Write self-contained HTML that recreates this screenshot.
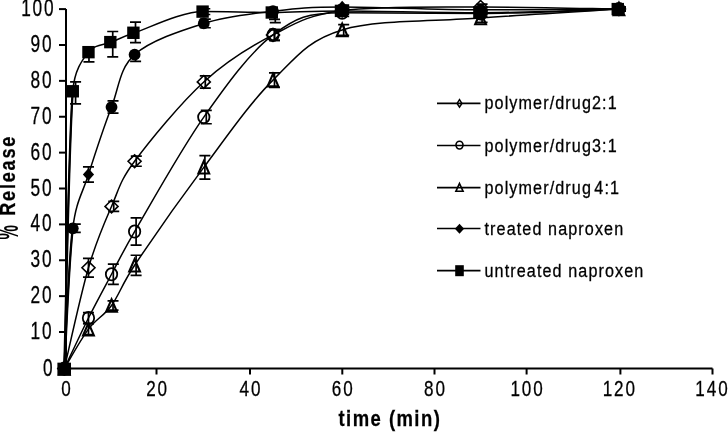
<!DOCTYPE html><html><head><meta charset="utf-8"><style>html,body{margin:0;padding:0;background:#fff;overflow:hidden;}svg{display:block}text{font-family:"Liberation Sans",Arial,sans-serif;fill:#000}</style></head><body>
<svg width="728" height="432" viewBox="0 0 728 432">
<g stroke="#000" stroke-width="2" fill="none">
<path d="M66,9.1V368.5H712.5"/>
<path d="M59,368.60H66"/>
<path d="M59,332.02H66"/>
<path d="M59,296.14H66"/>
<path d="M59,260.26H66"/>
<path d="M59,224.38H66"/>
<path d="M59,188.50H66"/>
<path d="M59,152.62H66"/>
<path d="M59,116.74H66"/>
<path d="M59,80.86H66"/>
<path d="M59,44.98H66"/>
<path d="M59,9.10H66"/>
<path d="M156.50,368.5V374.5"/>
<path d="M250.00,368.5V374.5"/>
<path d="M342.30,368.5V374.5"/>
<path d="M434.50,368.5V374.5"/>
<path d="M526.60,368.5V374.5"/>
<path d="M620.40,368.5V374.5"/>
<path d="M712.50,368.5V374.5"/>
</g>
<g font-size="24" text-anchor="end" stroke="#000" stroke-width="0.3" letter-spacing="2.5">
<text transform="translate(54.40,375.60) scale(0.72,1)">0</text>
<text transform="translate(53.40,339.02) scale(0.72,1)">10</text>
<text transform="translate(53.40,303.14) scale(0.72,1)">20</text>
<text transform="translate(53.40,267.26) scale(0.72,1)">30</text>
<text transform="translate(53.40,231.38) scale(0.72,1)">40</text>
<text transform="translate(53.40,195.50) scale(0.72,1)">50</text>
<text transform="translate(53.40,159.62) scale(0.72,1)">60</text>
<text transform="translate(53.40,123.74) scale(0.72,1)">70</text>
<text transform="translate(53.40,87.86) scale(0.72,1)">80</text>
<text transform="translate(53.40,51.98) scale(0.72,1)">90</text>
<text transform="translate(55.40,16.10) scale(0.72,1)">100</text>
</g>
<g font-size="22.5" text-anchor="middle" stroke="#000" stroke-width="0.3" letter-spacing="2.5">
<text transform="translate(66.95,395.8) scale(0.76,1)">0</text>
<text transform="translate(157.55,395.8) scale(0.76,1)">20</text>
<text transform="translate(250.95,395.8) scale(0.76,1)">40</text>
<text transform="translate(343.25,395.8) scale(0.76,1)">60</text>
<text transform="translate(435.45,395.8) scale(0.76,1)">80</text>
<text transform="translate(527.55,395.8) scale(0.76,1)">100</text>
<text transform="translate(619.75,395.8) scale(0.76,1)">120</text>
<text transform="translate(712.45,395.8) scale(0.76,1)">140</text>
</g>
<text font-weight="bold" font-size="21" text-anchor="middle" letter-spacing="1.65" stroke="#000" stroke-width="0.25" transform="translate(389.9,425.9) scale(0.88,1.03)">time (min)</text>
<text font-weight="bold" font-size="21" letter-spacing="2.1" stroke="#000" stroke-width="0.25" transform="translate(15.4,215.8) rotate(-90) scale(0.86,1.03)">Release</text>
<text font-weight="bold" font-size="26" transform="translate(17.6,239.6) rotate(-90) scale(0.62,1.18)">%</text>
<path d="M64.30,362.40L69.70,374.80L58.90,374.80Z" fill="none" stroke="#000" stroke-width="2.1" stroke-linejoin="miter"/>
<path d="M88.47,322.95L93.87,335.35L83.06,335.35Z" fill="none" stroke="#000" stroke-width="2.1" stroke-linejoin="miter"/>
<path d="M111.53,299.27L116.93,311.67L106.13,311.67Z" fill="none" stroke="#000" stroke-width="2.1" stroke-linejoin="miter"/>
<path d="M134.60,259.08L140.00,271.48L129.20,271.48Z" fill="none" stroke="#000" stroke-width="2.1" stroke-linejoin="miter"/>
<path d="M203.79,161.13L209.19,173.53L198.39,173.53Z" fill="none" stroke="#000" stroke-width="2.1" stroke-linejoin="miter"/>
<path d="M272.99,73.94L278.38,86.34L267.59,86.34Z" fill="none" stroke="#000" stroke-width="2.1" stroke-linejoin="miter"/>
<path d="M342.18,23.71L347.58,36.11L336.78,36.11Z" fill="none" stroke="#000" stroke-width="2.1" stroke-linejoin="miter"/>
<path d="M480.57,11.87L485.97,24.27L475.17,24.27Z" fill="none" stroke="#000" stroke-width="2.1" stroke-linejoin="miter"/>
<path d="M618.96,2.90L624.36,15.30L613.56,15.30Z" fill="none" stroke="#000" stroke-width="2.1" stroke-linejoin="miter"/>
<ellipse cx="64.30" cy="368.60" rx="5.70" ry="6.16" fill="none" stroke="#000" stroke-width="1.8"/>
<ellipse cx="88.47" cy="318.03" rx="5.70" ry="6.16" fill="none" stroke="#000" stroke-width="1.8"/>
<ellipse cx="111.53" cy="274.25" rx="5.70" ry="6.16" fill="none" stroke="#000" stroke-width="1.8"/>
<ellipse cx="134.60" cy="231.56" rx="5.70" ry="6.16" fill="none" stroke="#000" stroke-width="1.8"/>
<ellipse cx="203.79" cy="117.10" rx="5.70" ry="6.16" fill="none" stroke="#000" stroke-width="1.8"/>
<ellipse cx="272.99" cy="34.93" rx="5.70" ry="6.16" fill="none" stroke="#000" stroke-width="1.8"/>
<ellipse cx="342.18" cy="12.69" rx="5.70" ry="6.16" fill="none" stroke="#000" stroke-width="1.8"/>
<ellipse cx="480.57" cy="13.41" rx="5.70" ry="6.16" fill="none" stroke="#000" stroke-width="1.8"/>
<ellipse cx="618.96" cy="9.10" rx="5.70" ry="6.16" fill="none" stroke="#000" stroke-width="1.8"/>
<path d="M64.30,362.20L70.80,368.60L64.30,375.00L57.80,368.60Z" fill="none" stroke="#000" stroke-width="1.6"/>
<path d="M88.47,261.39L94.97,267.79L88.47,274.19L81.97,267.79Z" fill="none" stroke="#000" stroke-width="1.6"/>
<path d="M111.53,200.04L118.03,206.44L111.53,212.84L105.03,206.44Z" fill="none" stroke="#000" stroke-width="1.6"/>
<path d="M134.60,154.83L141.10,161.23L134.60,167.63L128.10,161.23Z" fill="none" stroke="#000" stroke-width="1.6"/>
<path d="M203.79,75.54L210.29,81.94L203.79,88.34L197.29,81.94Z" fill="none" stroke="#000" stroke-width="1.6"/>
<path d="M272.99,28.53L279.49,34.93L272.99,41.33L266.49,34.93Z" fill="none" stroke="#000" stroke-width="1.6"/>
<path d="M342.18,4.14L348.68,10.54L342.18,16.94L335.68,10.54Z" fill="none" stroke="#000" stroke-width="1.6"/>
<path d="M480.57,0.55L487.07,6.95L480.57,13.35L474.07,6.95Z" fill="none" stroke="#000" stroke-width="1.6"/>
<path d="M618.96,2.70L625.46,9.10L618.96,15.50L612.46,9.10Z" fill="none" stroke="#000" stroke-width="1.6"/>
<rect x="57.40" y="362.65" width="13.60" height="12.90" fill="#000"/>
<rect x="66.58" y="85.07" width="12.40" height="12.40" fill="#000"/>
<rect x="82.27" y="45.96" width="12.40" height="12.40" fill="#000"/>
<rect x="104.13" y="35.91" width="12.40" height="12.40" fill="#000"/>
<rect x="127.20" y="26.58" width="12.40" height="12.40" fill="#000"/>
<rect x="196.39" y="5.41" width="12.40" height="12.40" fill="#000"/>
<rect x="265.59" y="6.31" width="12.40" height="12.40" fill="#000"/>
<rect x="334.78" y="4.69" width="12.40" height="12.40" fill="#000"/>
<rect x="473.17" y="6.49" width="12.40" height="12.40" fill="#000"/>
<rect x="611.56" y="2.90" width="12.40" height="12.40" fill="#000"/>
<ellipse cx="64.30" cy="368.60" rx="5.90" ry="5.90" fill="#000"/>
<ellipse cx="72.78" cy="228.33" rx="5.90" ry="5.90" fill="#000"/>
<path d="M88.47,168.31L94.06,174.51L88.47,180.71L82.87,174.51Z" fill="#000"/>
<ellipse cx="111.53" cy="107.05" rx="5.90" ry="5.90" fill="#000"/>
<ellipse cx="134.60" cy="54.67" rx="5.90" ry="5.90" fill="#000"/>
<ellipse cx="203.79" cy="23.45" rx="5.90" ry="5.90" fill="#000"/>
<ellipse cx="272.99" cy="11.25" rx="5.90" ry="5.90" fill="#000"/>
<path d="M342.18,0.75L347.78,6.95L342.18,13.15L336.58,6.95Z" fill="#000"/>
<ellipse cx="480.57" cy="9.82" rx="5.90" ry="5.90" fill="#000"/>
<ellipse cx="618.96" cy="9.10" rx="5.90" ry="5.90" fill="#000"/>
<g stroke="#000" stroke-width="1.5" fill="none">
<path d="M64.30,368.60 C68.33,362.02 80.59,339.67 88.47,329.15 C96.34,318.63 103.84,316.11 111.53,305.47 C119.22,294.82 121.73,284.55 134.60,265.28 C149.97,242.26 180.73,198.19 203.79,167.33 C226.86,136.47 249.92,103.05 272.99,80.14 C296.05,57.24 307.58,40.26 342.18,29.91 C376.78,19.56 434.44,21.54 480.57,18.07 C526.70,14.60 595.89,10.59 618.96,9.10"/>
<path d="M64.30,368.60 C68.33,360.17 80.59,333.75 88.47,318.03 C96.34,302.30 103.84,288.66 111.53,274.25 C119.22,259.84 122.31,252.48 134.60,231.56 C149.97,205.36 180.73,149.87 203.79,117.10 C226.86,84.33 249.92,52.34 272.99,34.93 C296.05,17.53 307.58,12.69 342.18,12.69 C376.78,12.69 434.44,13.41 480.57,13.41 C526.70,13.41 595.89,9.82 618.96,9.10"/>
<path d="M64.30,368.60 C68.33,351.80 80.59,294.82 88.47,267.79 C96.34,240.77 103.84,224.20 111.53,206.44 C119.22,188.68 119.49,181.62 134.60,161.23 C149.97,140.48 180.73,102.99 203.79,81.94 C226.86,60.89 249.92,46.83 272.99,34.93 C296.05,23.03 307.58,15.20 342.18,10.54 C376.78,5.87 434.44,6.95 480.57,6.95 C526.70,6.95 595.89,8.74 618.96,9.10"/>
<path d="M64.30,368.60 C65.71,322.38 68.75,144.01 72.78,91.27 C74.39,70.26 82.01,60.35 88.47,52.16 C94.92,43.96 103.84,45.34 111.53,42.11 C119.22,38.88 122.78,36.69 134.60,32.78 C149.97,27.70 180.73,11.61 203.79,11.61 C226.86,11.61 249.92,12.51 272.99,12.51 C296.05,12.51 307.58,10.89 342.18,10.89 C376.78,10.89 434.44,12.69 480.57,12.69 C526.70,12.69 595.89,9.70 618.96,9.10"/>
<path d="M64.30,368.60 C65.71,345.22 68.75,260.68 72.78,228.33 C76.24,200.51 82.01,194.72 88.47,174.51 C94.92,154.29 103.84,127.03 111.53,107.05 C119.22,87.08 119.22,68.60 134.60,54.67 C149.97,40.73 180.73,30.69 203.79,23.45 C226.86,16.22 249.92,14.00 272.99,11.25 C296.05,8.50 307.58,6.95 342.18,6.95 C376.78,6.95 434.44,9.82 480.57,9.82 C526.70,9.82 595.89,9.22 618.96,9.10"/>
<path d="M64.30,368.60 C65.71,322.38 68.75,144.01 72.78,91.27" stroke-width="2.3"/>
<path d="M64.30,368.60 C65.71,345.22 68.75,260.68 72.78,228.33" stroke-width="2.3"/>
</g>
<g stroke="#000" stroke-width="1.7" fill="none">
<path d="M88.47,323.77V334.53M82.97,323.77H93.97M82.97,334.53H93.97"/>
<path d="M113.03,300.80V310.13M107.53,300.80H118.53M107.53,310.13H118.53"/>
<path d="M136.10,255.24V275.33M130.60,255.24H141.60M130.60,275.33H141.60"/>
<path d="M204.89,155.60V179.06M199.39,155.60H210.39M199.39,179.06H210.39"/>
<path d="M274.49,72.97V87.32M268.99,72.97H279.99M268.99,87.32H279.99"/>
<path d="M343.68,24.53V35.29M338.18,24.53H349.18M338.18,35.29H349.18"/>
<path d="M482.07,13.76V22.38M476.57,13.76H487.57M476.57,22.38H487.57"/>
<path d="M620.46,7.31V10.89M614.96,7.31H625.96M614.96,10.89H625.96"/>
<path d="M88.47,312.64V323.41M82.97,312.64H93.97M82.97,323.41H93.97"/>
<path d="M113.33,264.21V284.30M107.83,264.21H118.83M107.83,284.30H118.83"/>
<path d="M136.10,217.92V245.19M130.60,217.92H141.60M130.60,245.19H141.60"/>
<path d="M206.29,110.46V123.74M200.79,110.46H211.79M200.79,123.74H211.79"/>
<path d="M274.49,29.55V40.32M268.99,29.55H279.99M268.99,40.32H279.99"/>
<path d="M343.68,9.10V16.28M338.18,9.10H349.18M338.18,16.28H349.18"/>
<path d="M482.07,10.54V16.28M476.57,10.54H487.57M476.57,16.28H487.57"/>
<path d="M620.46,7.31V10.89M614.96,7.31H625.96M614.96,10.89H625.96"/>
<path d="M88.47,258.47V277.12M82.97,258.47H93.97M82.97,277.12H93.97"/>
<path d="M113.73,201.42V211.46M108.23,201.42H119.23M108.23,211.46H119.23"/>
<path d="M136.30,156.21V166.25M130.80,156.21H141.80M130.80,166.25H141.80"/>
<path d="M205.29,75.84V88.04M199.79,75.84H210.79M199.79,88.04H210.79"/>
<path d="M274.49,29.55V40.32M268.99,29.55H279.99M268.99,40.32H279.99"/>
<path d="M343.68,6.95V14.12M338.18,6.95H349.18M338.18,14.12H349.18"/>
<path d="M482.07,4.08V9.82M476.57,4.08H487.57M476.57,9.82H487.57"/>
<path d="M620.46,7.31V10.89M614.96,7.31H625.96M614.96,10.89H625.96"/>
<path d="M75.58,81.94V103.82M70.08,81.94H81.08M70.08,103.82H81.08"/>
<path d="M88.97,52.16V61.84M83.47,61.84H94.47"/>
<path d="M112.73,31.52V56.82M107.23,31.52H118.23M107.23,56.82H118.23"/>
<path d="M135.50,22.20V42.65M130.00,22.20H141.00M130.00,42.65H141.00"/>
<path d="M204.79,8.74V14.48M199.29,8.74H210.29M199.29,14.48H210.29"/>
<path d="M274.49,12.51V19.33M268.99,19.33H279.99"/>
<path d="M343.68,9.10V12.69M338.18,9.10H349.18M338.18,12.69H349.18"/>
<path d="M482.07,10.89V14.48M476.57,10.89H487.57M476.57,14.48H487.57"/>
<path d="M620.46,7.31V10.89M614.96,7.31H625.96M614.96,10.89H625.96"/>
<path d="M75.28,224.20V232.45M69.78,224.20H80.78M69.78,232.45H80.78"/>
<path d="M88.47,166.97V182.04M82.97,166.97H93.97M82.97,182.04H93.97"/>
<path d="M113.03,100.95V113.15M107.53,100.95H118.53M107.53,113.15H118.53"/>
<path d="M135.60,54.67V61.31M130.10,61.31H141.10"/>
<path d="M205.29,19.15V27.76M199.79,19.15H210.79M199.79,27.76H210.79"/>
<path d="M275.29,11.25V22.55M269.79,22.55H280.79"/>
<path d="M343.68,5.15V8.74M338.18,5.15H349.18M338.18,8.74H349.18"/>
<path d="M482.07,8.02V11.61M476.57,8.02H487.57M476.57,11.61H487.57"/>
<path d="M620.46,7.31V10.89M614.96,7.31H625.96M614.96,10.89H625.96"/>
</g>
<path d="M437,103.40H480.5" stroke="#000" stroke-width="1.7"/>
<path d="M459.50,99.60L461.90,103.40L459.50,107.20L457.10,103.40Z" fill="none" stroke="#000" stroke-width="1.5"/>
<text font-size="19" stroke="#000" stroke-width="0.3" letter-spacing="1.3" transform="translate(484.5,109.40) scale(0.85,1)">polymer/drug2:1</text>
<path d="M437,145.50H480.5" stroke="#000" stroke-width="1.7"/>
<ellipse cx="459.50" cy="145.10" rx="3.5" ry="3.9" fill="none" stroke="#000" stroke-width="1.6"/>
<text font-size="19" stroke="#000" stroke-width="0.3" letter-spacing="1.3" transform="translate(484.5,151.50) scale(0.85,1)">polymer/drug3:1</text>
<path d="M437,187.70H480.5" stroke="#000" stroke-width="1.7"/>
<path d="M459.50,183.50L463.10,191.30L455.90,191.30Z" fill="none" stroke="#000" stroke-width="1.6"/>
<text font-size="19" stroke="#000" stroke-width="0.3" word-spacing="-3.8" letter-spacing="1.3" transform="translate(484.5,193.70) scale(0.85,1)">polymer/drug 4:1</text>
<path d="M437,228.50H480.5" stroke="#000" stroke-width="1.7"/>
<path d="M459.50,223.70L464.10,228.70L459.50,233.70L454.90,228.70Z" fill="#000"/>
<text font-size="19" stroke="#000" stroke-width="0.3" letter-spacing="1.3" transform="translate(484.5,234.50) scale(0.85,1)">treated naproxen</text>
<path d="M437,270.70H480.5" stroke="#000" stroke-width="1.7"/>
<rect x="455.20" y="265.20" width="8.6" height="11" fill="#000"/>
<text font-size="19" stroke="#000" stroke-width="0.3" letter-spacing="1.3" transform="translate(484.5,276.70) scale(0.85,1)">untreated naproxen</text>
</svg></body></html>
